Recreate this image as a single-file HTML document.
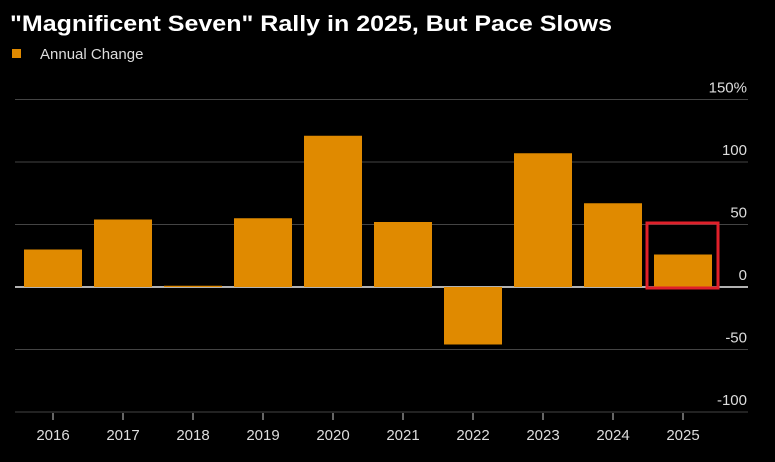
<!DOCTYPE html>
<html><head><meta charset="utf-8"><style>
html,body{margin:0;padding:0;background:#000;}
body{width:775px;height:457px;overflow:hidden;font-family:"Liberation Sans",sans-serif;}
</style></head><body>
<svg width="775" height="457" xmlns="http://www.w3.org/2000/svg">
<rect width="775" height="457" fill="#000"/>
<text x="10" y="31" fill="#fff" font-size="22" font-weight="bold" textLength="602" lengthAdjust="spacingAndGlyphs">"Magnificent Seven" Rally in 2025, But Pace Slows</text>
<rect x="12" y="49" width="9" height="9" fill="#e08a00"/>
<text x="40" y="59" fill="#ddd" font-size="15">Annual Change</text>
<g id="grid"></g><g id="bars"></g><g id="xaxis"></g>
<rect x="647" y="223" width="71" height="65" fill="none" stroke="#e0202a" stroke-width="3"/>
</svg>
<script>
const categories=["2016","2017","2018","2019","2020","2021","2022","2023","2024","2025"];
const values=[30,54,1,55,121,52,-46,107,67,26];
const ticks=[150,100,50,0,-50,-100];
const tickLabels=["150%","100","50","0","-50","-100"];
const NS="http://www.w3.org/2000/svg";
function y(v){return 287-v*1.25;}
function x(i){return 53+i*70.0;}
function mk(t,a,p){const e=document.createElementNS(NS,t);for(const k in a)e.setAttribute(k,a[k]);p.appendChild(e);return e;}
const g=document.getElementById('grid'),b=document.getElementById('bars'),xa=document.getElementById('xaxis');
ticks.forEach((t,i)=>{
 const l=mk('line',{x1:15,x2:748,y1:y(t),y2:y(t),stroke:t===0?'#eee':'#444','stroke-width':t===0?1.5:1},g);
 
 
 const tx=mk('text',{x:747,y:y(t)-7,fill:'#ddd','font-size':15,'text-anchor':'end'},g);
 tx.textContent=tickLabels[i];
 
 
});
values.forEach((v,i)=>{
 const r=mk('rect',{x:x(i)-29,width:58,y:Math.min(y(v),y(0)),height:Math.max(Math.abs(y(v)-y(0)),1),fill:'#e08a00'},b);
 
 
 const tk=mk('line',{x1:x(i),x2:x(i),y1:413,y2:420,stroke:'#ccc','stroke-width':1},xa);
 
 
 const tx=mk('text',{x:x(i),y:440,fill:'#ddd','font-size':15,'text-anchor':'middle'},xa);
 tx.textContent=categories[i];
 
 
});
</script>
</body></html>
